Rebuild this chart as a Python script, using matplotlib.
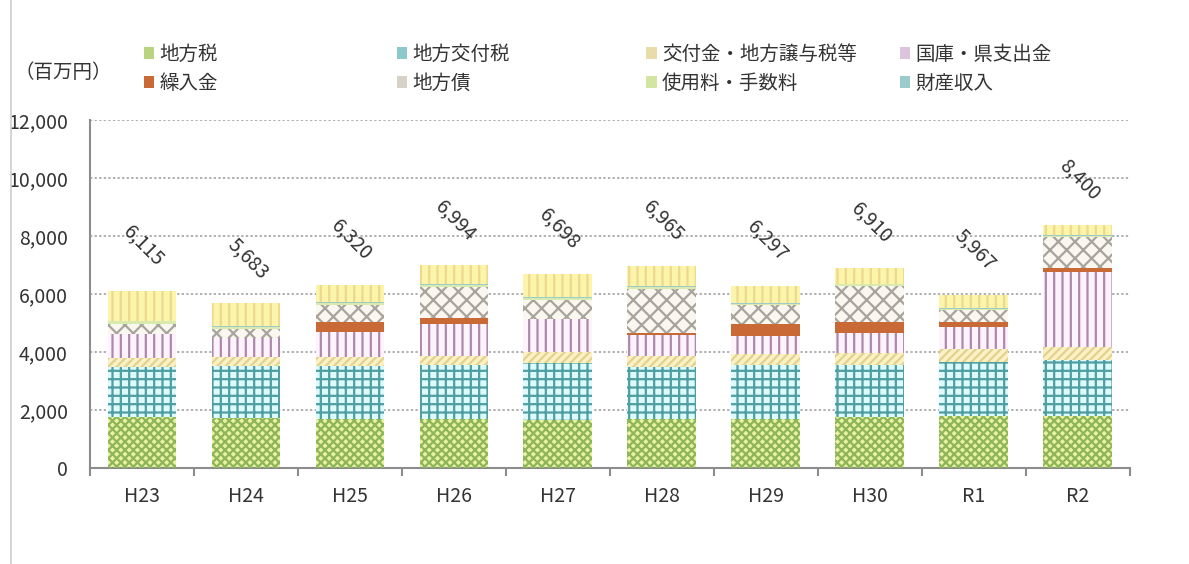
import matplotlib.pyplot as plt
import matplotlib.patches as mpatches
import matplotlib.lines as mlines
import numpy as np

plt.rcParams['font.family'] = ['Noto Sans CJK JP', 'DejaVu Sans']
plt.rcParams['hatch.linewidth'] = 1.6

years = ["H23", "H24", "H25", "H26", "H27", "H28", "H29", "H30", "R1", "R2"]
chihouzei = [1770, 1740, 1690, 1710, 1660, 1690, 1710, 1750, 1800, 1790]
koufuzei = [1720, 1780, 1830, 1840, 1950, 1800, 1840, 1800, 1870, 1930]
koufukin = [320, 300, 320, 310, 380, 370, 380, 430, 440, 440]
kokko = [800, 660, 840, 1100, 1140, 720, 630, 670, 750, 2610]
kuriire = [20, 20, 370, 200, 20, 80, 400, 380, 195, 115]
chihousai = [350, 290, 575, 1070, 650, 1505, 655, 1265, 405, 1090]
shiyouryou = [80, 80, 80, 80, 80, 80, 50, 50, 40, 40]
zaisan = [30, 30, 30, 30, 30, 30, 20, 20, 20, 20]
sonota = [1025, 783, 585, 654, 788, 690, 612, 545, 447, 365]
totals = [6115, 5683, 6320, 6994, 6698, 6965, 6297, 6910, 5967, 8400]

names = ["地方税", "地方交付税", "交付金・地方譲与税等", "国庫・県支出金",
         "繰入金", "地方債", "使用料・手数料", "財産収入"]
series = [chihouzei, koufuzei, koufukin, kokko, kuriire, chihousai,
          shiyouryou, zaisan, sonota]
# (face, hatch, hatch colour)
styles = [
    ("#e9f2a0", "xxxx", "#8fb55a"),
    ("#ddfafc", "++", "#4f9fa2"),
    ("#fbf1c4", "////", "#e2d290"),
    ("#fdf3fc", "||", "#ae88ac"),
    ("#c96a36", None, None),
    ("#faf7f0", "xx", "#a8a39b"),
    ("#d9ebac", None, None),
    ("#9ccbcb", None, None),
    ("#fbf4aa", "||", "#ecd98c"),
]
legend_colors = ["#b8d47e", "#8cc9cb", "#e8dca8", "#dcc4dc",
                 "#c96a36", "#d6d2c8", "#d2e6a0", "#9ccbcb"]

fig = plt.figure(figsize=(11.89, 5.64), dpi=100)
ax = fig.add_axes([0.0757, 0.170, 0.8743, 0.617])

x = np.arange(len(years))
width = 0.66
bottom = np.zeros(len(years))
for i, (vals, (fc, hatch, hc)) in enumerate(zip(series, styles)):
    vals = np.array(vals, dtype=float)
    ax.bar(x, vals, width, bottom=bottom, color=fc, linewidth=0, zorder=2)
    if hatch:
        ax.bar(x, vals, width, bottom=bottom, facecolor="none", hatch=hatch,
               edgecolor=hc, linewidth=0, zorder=3)
    bottom += vals

for xi, t in zip(x, totals):
    ax.text(xi + 0.02, t + 1550, f"{t:,}", rotation=-45, ha="center",
            va="center", fontsize=14, color="#333333", rotation_mode="anchor")

ax.set_xlim(-0.5, len(years) - 0.5)
ax.set_ylim(0, 12000)
ax.set_yticks(np.arange(0, 12001, 2000))
ax.set_yticklabels([f"{v:,}" for v in range(0, 12001, 2000)])
ax.set_xticks(x)
ax.set_xticklabels(years)
ax.set_xticks(np.arange(-0.5, len(years), 1), minor=True)
ax.tick_params(axis="x", which="major", length=0, pad=13, labelsize=14,
               colors="#333333")
ax.tick_params(axis="x", which="minor", length=6, color="#8c8c8c", width=1.5)
ax.tick_params(axis="y", length=0, labelsize=14, colors="#333333", pad=16)
ax.yaxis.grid(True, linestyle=(0, (1.5, 1.5)), color="#9a9a9a", linewidth=1.1,
              zorder=0)
ax.set_axisbelow(True)
for s in ["top", "right"]:
    ax.spines[s].set_visible(False)
for s in ["left", "bottom"]:
    ax.spines[s].set_color("#8c8c8c")
    ax.spines[s].set_linewidth(1.5)

# four legend columns at fixed positions
col_x = [0.106, 0.319, 0.529, 0.742]
for c in range(4):
    idx = [c, c + 4]
    hs = [mpatches.Patch(facecolor=legend_colors[i], edgecolor="none")
          for i in idx]
    fig.legend(hs, [names[i] for i in idx], loc="upper left",
               bbox_to_anchor=(col_x[c], 0.953), frameon=False, fontsize=14,
               handlelength=0.55, handleheight=0.55, handletextpad=0.25,
               labelspacing=0.42, labelcolor="#333333")
fig.text(0.012, 0.862, "（百万円）", fontsize=14, color="#333333")

fig.add_artist(mlines.Line2D([0.0095, 0.0095], [0, 1], color="#d0d0d0",
                             linewidth=1.2, transform=fig.transFigure))

fig.savefig("out.png", dpi=100)
